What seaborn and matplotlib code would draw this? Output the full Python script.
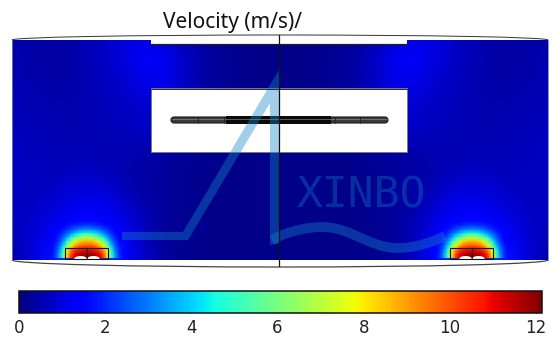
import numpy as np
import matplotlib
matplotlib.use('Agg')
import matplotlib.pyplot as plt
import seaborn as sns
from matplotlib.patches import Rectangle, Arc, Ellipse, Polygon, PathPatch, FancyBboxPatch
from matplotlib.path import Path

W, H = 560, 351

# speed, left half of the tank, rows top to bottom
row_040 = [.50, .45, .40, .45, .60, .80, 1.0, 1.1, .95, .60, .35, .20, .15, .10, .10]
row_062 = [.55, .45, .40, .45, .60, .80, 1.0, 1.3, 1.2, .80, .45, .28, .18, .12, .10]
row_084 = [.60, .50, .45, .45, .55, .70, .90, 1.1, 1.1, .70, .40, .25, .15, .10, .10]
row_106 = [.65, .55, .50, .50, .55, .65, .75, .90, .70, .50, .30, .20, .15, .10, .10]
row_128 = [.70, .60, .55, .50, .55, .60, .65, .80, .60, .40, .25, .15, .10, .10, .10]
row_150 = [.75, .65, .60, .60, .60, .55, .55, .50, .40, .30, .20, .15, .10, .10, .10]
row_172 = [.75, .70, .65, .70, .75, .65, .50, .40, .30, .20, .15, .10, .10, .10, .10]
row_194 = [.75, .70, .80, .95, 1.05, .95, .65, .40, .30, .20, .15, .10, .10, .10, .10]
row_216 = [.70, .80, 1.0, 1.25, 1.45, 1.25, .95, .55, .30, .20, .15, .10, .10, .10, .10]
row_238 = [.60, .90, 1.3, 1.7, 1.9, 1.7, 1.2, .65, .30, .20, .15, .10, .10, .10, .10]
row_260 = [.40, .95, 1.7, 2.2, 2.2, 2.2, 1.4, .75, .35, .18, .10, .10, .10, .10, .10]

# finer table around one nozzle (half, mirrored), rows from dome top to floor
jet_40 = [1.0, 1.1, 1.15, 1.25, 1.3, 1.35, 1.4, 1.45, 1.45, 1.45]
jet_36 = [1.1, 1.15, 1.25, 1.3, 1.4, 1.5, 1.6, 1.65, 1.7, 1.7]
jet_32 = [1.15, 1.25, 1.35, 1.5, 1.7, 1.85, 2.0, 2.15, 2.25, 2.3]
jet_28 = [1.2, 1.35, 1.5, 1.8, 2.1, 2.4, 2.8, 3.05, 3.25, 3.3]
jet_24 = [1.3, 1.45, 1.75, 2.2, 2.8, 3.4, 4.0, 4.5, 4.9, 5.0]
jet_20 = [1.35, 1.6, 2.0, 2.7, 3.6, 4.7, 5.7, 6.4, 6.9, 7.0]
jet_16 = [1.4, 1.7, 2.3, 3.3, 4.8, 6.3, 7.5, 8.3, 8.7, 8.8]
jet_12 = [1.5, 1.9, 2.7, 4.0, 6.0, 7.8, 9.0, 9.7, 9.9, 10.0]
jet_08 = [1.5, 2.0, 3.0, 4.8, 7.2, 9.2, 10.3, 10.7, 10.9, 11.0]
jet_04 = [1.55, 2.1, 3.4, 5.4, 8.0, 10.2, 11.0, 11.5, 11.8, 11.9]
jet_00 = [1.6, 2.2, 3.5, 5.6, 8.4, 10.5, 11.5, 12.0, 12.0, 12.0]

cbar_ticks = [0, 2, 4, 6, 8, 10, 12]
title = 'Velocity (m/s)/'
mark = 'XINBO'

vmin, vmax = 0, 12.14


def px_axes(fig, x0, y0, x1, y1, **kw):
    # axes placed by pixel box, y measured from the top of the image
    return fig.add_axes([x0 / W, 1 - y1 / H, (x1 - x0) / W, (y1 - y0) / H], **kw)


def mirror(rows):
    half = np.array(rows)
    return np.hstack([half, half[:, -2::-1]])


def smooth_heatmap(ax, table, **kw):
    sns.heatmap(table, ax=ax, cmap='jet', vmin=vmin, vmax=vmax, shading='gouraud',
                xticklabels=False, yticklabels=False, **kw)
    ax.set_xlim(0, table.shape[1] - 1)
    ax.set_ylim(table.shape[0] - 1, 0)


sns.set_theme(style='white')
plt.rcParams['font.family'] = ['DejaVu Sans']

fig = plt.figure(figsize=(W / 100, H / 100), dpi=100, facecolor='white')

# the tank
tank = mirror([row_040, row_062, row_084, row_106, row_128, row_150,
               row_172, row_194, row_216, row_238, row_260])
ax = px_axes(fig, 12, 40, 548, 260)
cax = px_axes(fig, 19, 291, 542, 313)
smooth_heatmap(ax, tank, cbar_ax=cax, cbar_kws={'orientation': 'horizontal'})
ax.axis('off')

# colour bar
cb = ax.collections[0].colorbar
cb.set_ticks(cbar_ticks)
cb.outline.set_visible(True)
cb.outline.set_edgecolor('#101010')
cb.outline.set_linewidth(1.1)
cax.tick_params(axis='x', which='major', direction='in', length=3, width=.8, color='#101010',
                top=True, bottom=True, labelsize=12, labelcolor='#222222', pad=4)

# the two nozzle domes, same table
jet = mirror([jet_40, jet_36, jet_32, jet_28, jet_24, jet_20,
              jet_16, jet_12, jet_08, jet_04, jet_00])
for cx in [87, 472]:
    jax = px_axes(fig, cx - 36, 218, cx + 36, 258)
    smooth_heatmap(jax, jet, cbar=False)
    jax.axis('off')

# overlay in image pixels for the geometry and the watermark
ov = fig.add_axes([0, 0, 1, 1], zorder=5)
ov.set_xlim(0, W)
ov.set_ylim(H, 0)
ov.axis('off')

ov.plot([12, 12], [40, 260], color='#8080a0', lw=.6)
ov.plot([548, 548], [40, 260], color='#8080a0', lw=.6)

# top lid and lens
ov.add_patch(Arc((280, 40), 536, 10, theta1=180, theta2=360, color='#333333', lw=.7))
ov.add_patch(Rectangle((151, 40), 256, 4, fc='white', ec='none'))
ov.plot([151, 407], [43.5, 43.5], color='#222222', lw=.9)

# bottom dish
ov.add_patch(Arc((280, 260), 536, 14, theta1=0, theta2=180, color='#444444', lw=.9))

# white box and tube inside
ov.add_patch(Rectangle((151, 88), 256, 64, fc='white', ec='#777777', lw=.6))
ov.plot([151, 407], [88.5, 88.5], color='#222244', lw=.7)
ov.add_patch(FancyBboxPatch((171, 117), 217, 6, boxstyle='round,pad=0,rounding_size=3',
                            fc='#3a3a3a', ec='#1a1a1a', lw=.8))
ov.plot([172, 387], [118.5, 118.5], color='#999999', lw=.4)
ov.add_patch(Rectangle((226, 116), 105, 8, fc='#0a0a0a', ec='none'))
for x in [198, 224, 335, 360]:
    ov.plot([x, x], [117, 123], color='#222222', lw=.6)

# nozzle boxes
for cx in [87, 472]:
    ov.add_patch(Ellipse((cx - 6.5, 258.5), 12, 5, fc='white', ec='none'))
    ov.add_patch(Ellipse((cx + 6.5, 258.5), 12, 5, fc='white', ec='none'))
    ov.add_patch(Rectangle((cx - 22, 248), 43, 11, fc='none', ec='#111111', lw=.8))
    ov.plot([cx, cx], [248, 259], color='#222222', lw=.6)

# watermark
wm = (22 / 255, 133 / 255, 200 / 255)
ov.add_patch(Polygon([(122, 232), (183, 232), (280, 68), (280, 243), (270, 245),
                      (270, 103), (188, 240), (122, 240)], fc=wm, ec='none', alpha=.4))
wave = Path([(272, 240), (290, 230), (310, 227), (323, 227), (350, 227), (370, 248),
             (397, 248), (415, 248), (430, 243), (445, 236)],
            [Path.MOVETO] + [Path.CURVE4] * 9)
ov.add_patch(PathPatch(wave, fc='none', ec=wm, lw=7, alpha=.4, capstyle='butt'))
ov.text(361, 195, mark, color=wm, alpha=.35, family='DejaVu Sans Mono', fontsize=31,
        ha='center', va='center')

# centre line
ov.plot([279, 279], [35, 266], color='#111111', lw=.9)

ov.text(163, 28, title, family='Noto Sans', fontsize=15, color='#111111', ha='left', va='baseline')

fig.savefig('out.png', dpi=100)
